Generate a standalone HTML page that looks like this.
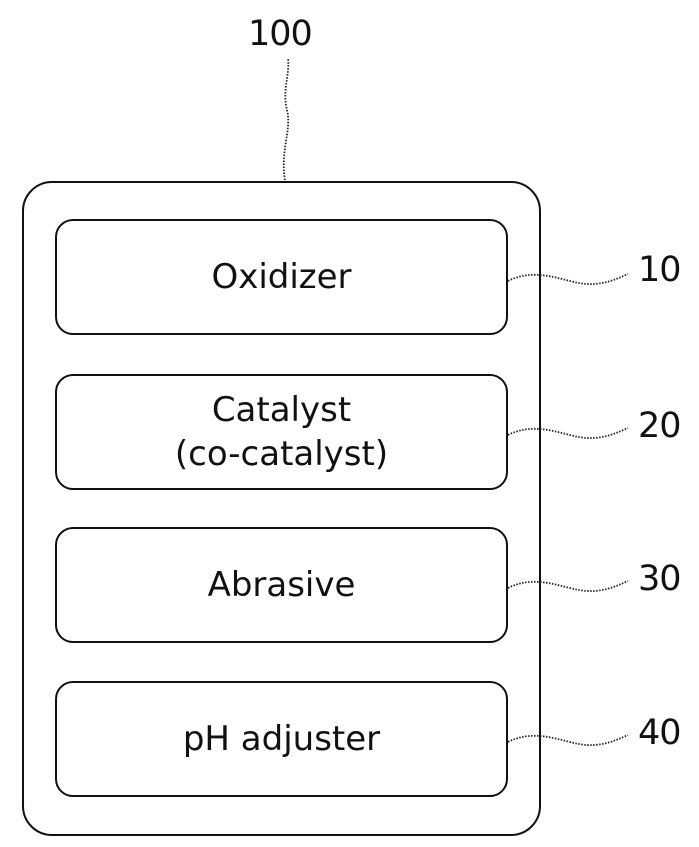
<!DOCTYPE html><html><head><style>
body{margin:0;width:699px;height:847px;background:#fff;position:relative;font-family:"DejaVu Sans","Liberation Sans",sans-serif;overflow:hidden}
.b{position:absolute;border:2.5px solid #111;box-sizing:border-box}
.in{left:55px;width:453px;height:116px;border-radius:18px;display:flex;align-items:center;justify-content:center;text-align:center;font-size:34px;line-height:44px;color:#111}
.l{position:absolute;font-size:35px;color:#111;letter-spacing:-1px}
</style></head><body>
<div class="b" style="left:22px;top:181px;width:519px;height:655px;border-radius:30px"></div>
<div class="b in" style="top:219px">Oxidizer</div>
<div class="b in" style="top:374px">Catalyst<br>(co-catalyst)</div>
<div class="b in" style="top:527px">Abrasive</div>
<div class="b in" style="top:681px">pH adjuster</div>
<div class="l" style="left:248px;top:14px">100</div>
<div class="l" style="left:638px;top:250px">10</div>
<div class="l" style="left:638px;top:406px">20</div>
<div class="l" style="left:638px;top:559px">30</div>
<div class="l" style="left:638px;top:713px">40</div>
<svg width="699" height="847" style="position:absolute;left:0;top:0" fill="none" stroke="#222" stroke-width="1.8" stroke-dasharray="1.5 1.5">
<path d="M285 180 C280 150 292 130 287 110 C282 90 290 75 288 58"/>
<path d="M508 281 C530 270 550 276 570 281 C595 288 610 282 628 274"/>
<path d="M508 435 C530 424 550 430 570 435 C595 442 610 436 628 428"/>
<path d="M508 588 C530 577 550 583 570 588 C595 595 610 589 628 581"/>
<path d="M508 742 C530 731 550 737 570 742 C595 749 610 743 628 735"/>
</svg>
</body></html>
